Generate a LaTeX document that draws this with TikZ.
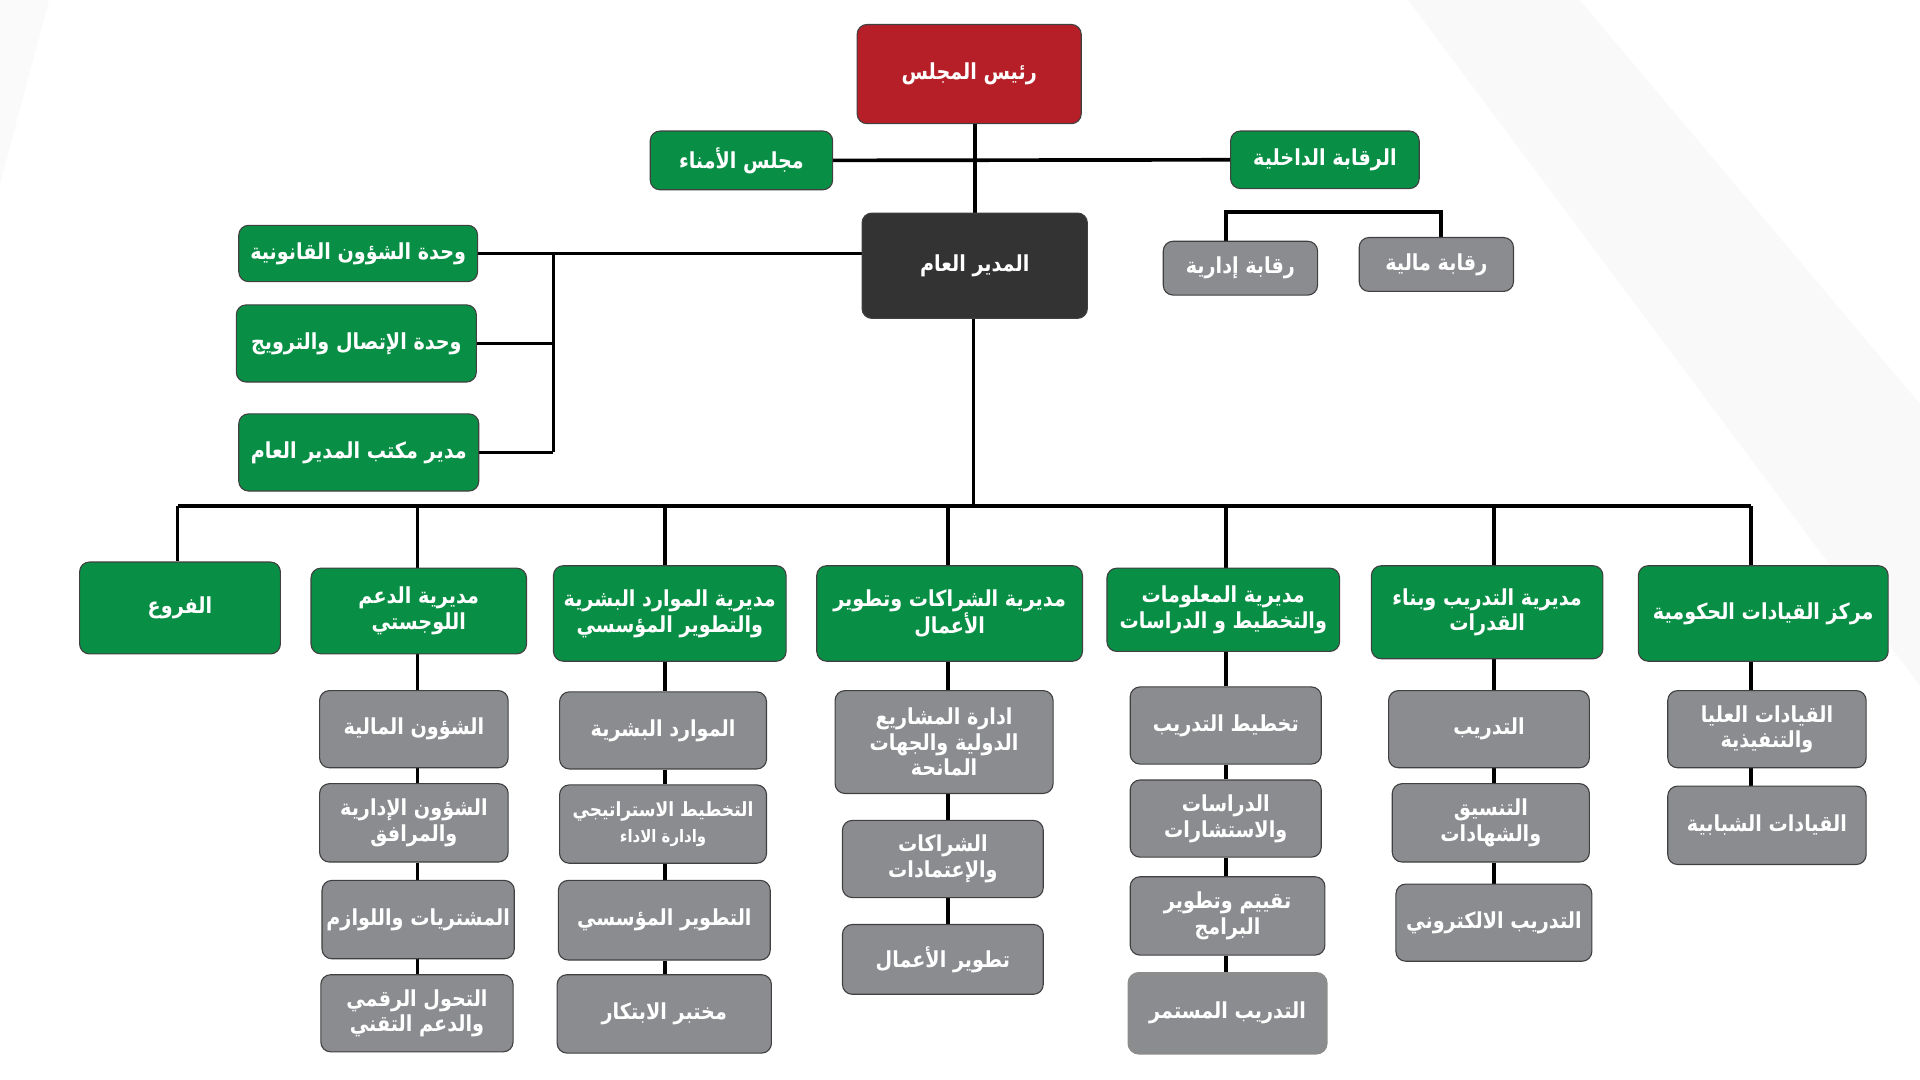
\documentclass[tikz,border=0pt]{standalone}
\usepackage{fontspec}
\TeXXeTstate=1
\newfontfamily\arabicfont[Script=Arabic,FakeStretch=0.87]{DejaVu Sans}
\usetikzlibrary{backgrounds}
\definecolor{cred}{HTML}{B61F27}
\definecolor{cgreen}{HTML}{088F45}
\definecolor{cdark}{HTML}{333333}
\definecolor{cgray}{HTML}{8B8C8F}
\newcommand\ar[1]{\beginR #1\endR}
\newcommand\mybox[7]{\node[#1,minimum width={(#5-#3)*1pt},minimum height={(#6-#4)*1pt}] (#2) at ({(#3+#5)/2},{(#4+#6)/2}) {#7};}
\tikzset{
  basebox/.style={rounded corners=8pt,draw=black!75,line width=0.9pt,text=white,align=center,inner sep=1pt,
    font=\arabicfont\bfseries\fontsize{18}{21}\selectfont},
  redbox/.style={basebox,fill=cred},
  greenbox/.style={basebox,fill=cgreen},
  darkbox/.style={basebox,fill=cdark},
  graybox/.style={basebox,fill=cgray},
  link/.style={line width=3pt,black},
  thin link/.style={line width=3pt,black}
}
\begin{document}
\begin{tikzpicture}[x=1pt,y=-1pt]
\useasboundingbox (0,0) rectangle (1568,882);
\begin{scope}[on background layer]
\fill[white] (0,0) rectangle (1568,882);
% faint background bands
\fill[black!2.5] (1150,0) -- (1290,0) -- (1568,330) -- (1568,560) -- cycle;
\fill[black!2] (0,0) -- (40,0) -- (0,150) -- cycle;
\end{scope}

% top level
\mybox{redbox}{chair}{700}{20}{883}{101}{\ar{رئيس المجلس}}
\mybox{greenbox}{board}{531}{107}{680}{155}{\ar{مجلس الأمناء}}
\mybox{greenbox}{audit}{1005}{107}{1159}{154}{\ar{الرقابة الداخلية}}
\mybox{darkbox}{gm}{704}{174}{888}{260}{\ar{المدير العام}}
\mybox{graybox}{adma}{950}{197}{1076}{241}{\ar{رقابة إدارية}}
\mybox{graybox}{fina}{1110}{194}{1236}{238}{\ar{رقابة مالية}}

% staff units
\mybox{greenbox}{legal}{195}{184}{390}{230}{\ar{وحدة الشؤون القانونية}}
\mybox{greenbox}{comm}{193}{249}{389}{312}{\ar{وحدة الإتصال والترويج}}
\mybox{greenbox}{office}{195}{338}{391}{401}{\ar{مدير مكتب المدير العام}}

% directorates
\mybox{greenbox}{fur}{65}{459}{229}{534}{\ar{الفروع}}
\mybox{greenbox}{log}{254}{464}{430}{534}{\ar{مديرية الدعم}\\\ar{اللوجستي}}
\mybox{greenbox}{hr}{452}{462}{642}{540}{\ar{مديرية الموارد البشرية}\\\ar{والتطوير المؤسسي}}
\mybox{greenbox}{part}{667}{462}{884}{540}{\ar{مديرية الشراكات وتطوير}\\\ar{الأعمال}}
\mybox{greenbox}{info}{904}{464}{1094}{532}{\ar{مديرية المعلومات}\\\ar{والتخطيط و الدراسات}}
\mybox{greenbox}{train}{1120}{462}{1309}{538}{\ar{مديرية  التدريب وبناء}\\\ar{القدرات}}
\mybox{greenbox}{lead}{1338}{462}{1542}{540}{\ar{مركز القيادات الحكومية}}

% logistics column
\mybox{graybox}{log1}{261}{564}{415}{627}{\ar{الشؤون المالية}}
\mybox{graybox}{log2}{261}{640}{415}{704}{\ar{الشؤون الإدارية}\\\ar{والمرافق}}
\mybox{graybox}{log3}{263}{719}{420}{783}{\ar{المشتريات واللوازم}}
\mybox{graybox}{log4}{262}{796}{419}{859}{\ar{التحول الرقمي}\\\ar{والدعم التقني}}
% hr column
\mybox{graybox}{hr1}{457}{565}{626}{628}{\ar{الموارد البشرية}}
\mybox{graybox}{hr2}{457}{641}{626}{705}{{\fontsize{16}{20}\selectfont\ar{التخطيط الاستراتيجي}}\\{\fontsize{14}{17}\selectfont\ar{وادارة الاداء}}}
\mybox{graybox}{hr3}{456}{719}{629}{784}{\ar{التطوير المؤسسي}}
\mybox{graybox}{hr4}{455}{796}{630}{860}{\ar{مختبر الابتكار}}
% partnerships column
\mybox{graybox}{part1}{682}{564}{860}{648}{\ar{ادارة المشاريع}\\\ar{الدولية والجهات}\\\ar{المانحة}}
\mybox{graybox}{part2}{688}{670}{852}{733}{\ar{الشراكات}\\\ar{والإعتمادات}}
\mybox{graybox}{part3}{688}{755}{852}{812}{\ar{تطوير الأعمال}}
% info column
\mybox{graybox}{info1}{923}{561}{1079}{624}{\ar{تخطيط التدريب}}
\mybox{graybox}{info2}{923}{637}{1079}{700}{\ar{الدراسات}\\\ar{والاستشارات}}
\mybox{graybox}{info3}{923}{716}{1082}{780}{\ar{تقييم وتطوير}\\\ar{البرامج}}
\mybox{graybox,draw=black!45,line width=2.4pt}{info4}{922}{795}{1083}{860}{\ar{التدريب المستمر}}
% training column
\mybox{graybox}{train1}{1134}{564}{1298}{627}{\ar{التدريب}}
\mybox{graybox}{train2}{1137}{640}{1298}{704}{\ar{التنسيق}\\\ar{والشهادات}}
\mybox{graybox}{train3}{1140}{722}{1300}{785}{\ar{التدريب الالكتروني}}
% leadership column
\mybox{graybox}{lead1}{1362}{564}{1524}{627}{\ar{القيادات العليا}\\\ar{والتنفيذية}}
\mybox{graybox}{lead2}{1362}{642}{1524}{706}{\ar{القيادات الشبابية}}

% coordinates
\coordinate (cx) at (796,0);
\coordinate (sx) at (452,0);
\coordinate (busL) at (145,413);
\coordinate (busR) at (1430,413);
\coordinate (cL) at (341,0);
\coordinate (cH) at (543,0);
\coordinate (cP) at (774,0);
\coordinate (cI) at (1001,0);
\coordinate (cT) at (1220,0);
\coordinate (cC) at (1430,0);
\coordinate (gmx) at (795,0);
\coordinate (ca) at (1001,173);
\coordinate (cf) at (1177,173);

\begin{scope}[on background layer]
% top connectors
\draw[link] (chair.south -| cx) -- (gm.north -| cx);
\draw[link] (board.east) -- (audit.west);
\draw[thin link] (adma.north -| ca) -- (ca) -- (cf) -- (fina.north -| cf);
% staff
\draw[link] (gm.west |- legal.east) -- (legal.east);
\draw[link] (legal.east -| sx) -- (office.east -| sx);
\draw[link] (comm.east) -- (comm.east -| sx);
\draw[link] (office.east) -- (office.east -| sx);
% to bus
\draw[link] (gm.south -| gmx) -- (busL -| gmx);
\draw[link] (busL) -- (busR);
\draw[link] (busL) -- (fur.north -| busL);
\draw[link] (busL -| cL) -- (log.north -| cL);
\draw[link] (busL -| cH) -- (hr.north -| cH);
\draw[link] (busL -| cP) -- (part.north -| cP);
\draw[link] (busL -| cI) -- (info.north -| cI);
\draw[link] (busL -| cT) -- (train.north -| cT);
\draw[link] (busR) -- (lead.north -| cC);
% columns
\draw[link] (log.south -| cL) -- (log1.north -| cL);
\draw[link] (log1.south -| cL) -- (log2.north -| cL);
\draw[link] (log2.south -| cL) -- (log3.north -| cL);
\draw[link] (log3.south -| cL) -- (log4.north -| cL);
\draw[link] (hr.south -| cH) -- (hr1.north -| cH);
\draw[link] (hr1.south -| cH) -- (hr2.north -| cH);
\draw[link] (hr2.south -| cH) -- (hr3.north -| cH);
\draw[link] (hr3.south -| cH) -- (hr4.north -| cH);
\draw[link] (part.south -| cP) -- (part1.north -| cP);
\draw[link] (part1.south -| cP) -- (part2.north -| cP);
\draw[link] (part2.south -| cP) -- (part3.north -| cP);
\draw[link] (info.south -| cI) -- (info1.north -| cI);
\draw[link] (info1.south -| cI) -- (info2.north -| cI);
\draw[link] (info2.south -| cI) -- (info3.north -| cI);
\draw[link] (info3.south -| cI) -- (info4.north -| cI);
\draw[link] (train.south -| cT) -- (train1.north -| cT);
\draw[link] (train1.south -| cT) -- (train2.north -| cT);
\draw[link] (train2.south -| cT) -- (train3.north -| cT);
\draw[link] (lead.south -| cC) -- (lead1.north -| cC);
\draw[link] (lead1.south -| cC) -- (lead2.north -| cC);
\end{scope}
\end{tikzpicture}
\end{document}
